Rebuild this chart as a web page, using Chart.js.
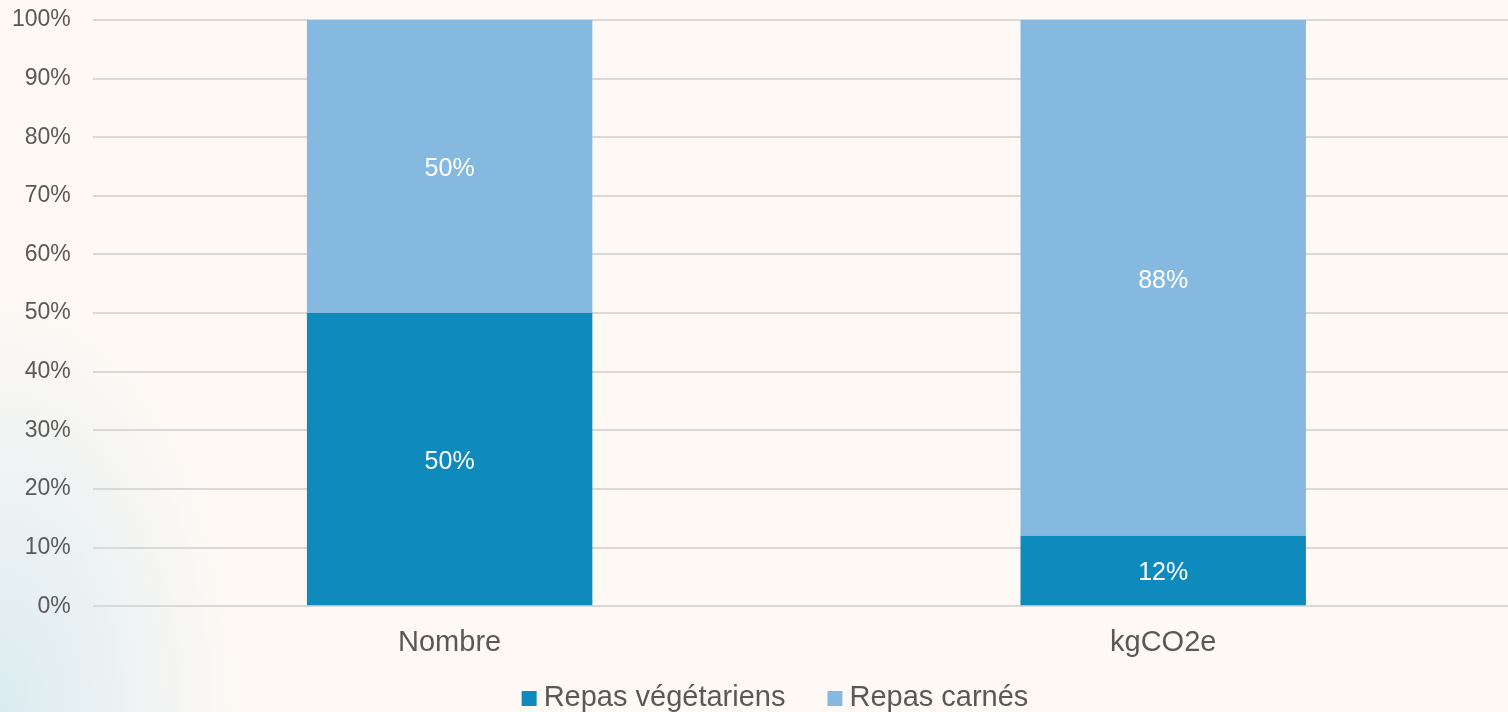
<!DOCTYPE html>
<html>
<head>
<meta charset="utf-8">
<style>
	html, body {
		margin: 0;
		padding: 0;
		width: 1508px;
		height: 712px;
		overflow: hidden;
		background-color: #fef9f5;
		background-image: radial-gradient(ellipse 240px 420px at 0px 712px, rgba(200, 228, 238, 0.65), rgba(254, 249, 245, 0));
	}
	#wrap {
		position: relative;
		width: 1520px;
		height: 712px;
	}
</style>
</head>
<body>

<div id="wrap">
	<canvas id="repasChart"></canvas>
</div>

<script src="https://cdn.jsdelivr.net/npm/chart.js@4/dist/chart.umd.min.js"></script>

<script>
	const categories = ["Nombre", "kgCO2e"]
	const vegetariens = [50, 12]
	const carnes = [50, 88]
	const yTicks = [0, 10, 20, 30, 40, 50, 60, 70, 80, 90, 100]

	const FONT = "'Liberation Sans', Arial, sans-serif"
	const TEXT_GREY = "#595959"

	// write the % value in the middle of each segment
	const segmentLabels = {
		id: "segmentLabels",
		afterDatasetsDraw(chart) {
			const ctx = chart.ctx
			ctx.save()
			ctx.font = "25px " + FONT
			ctx.fillStyle = "#ffffff"
			ctx.textAlign = "center"
			ctx.textBaseline = "middle"
			chart.data.datasets.forEach((ds, i) => {
				chart.getDatasetMeta(i).data.forEach((bar, j) => {
					const mid = (bar.y + bar.base) / 2
					ctx.fillText(ds.data[j] + "%", bar.x, mid + 3)
				})
			})
			ctx.restore()
		}
	}

	// built-in legend puts too much space between box and text, so draw our own
	const bottomLegend = {
		id: "bottomLegend",
		afterDraw(chart) {
			const ctx = chart.ctx
			const box = 15, gap = 7, itemGap = 42
			const baseline = chart.height - 6
			ctx.save()
			ctx.font = "29px " + FONT
			ctx.textBaseline = "alphabetic"
			const items = chart.data.datasets.map(ds => ({
				text: ds.label,
				color: ds.backgroundColor,
				w: ctx.measureText(ds.label).width
			}))
			const total = items.reduce((s, it) => s + box + gap + it.w, 0) + itemGap * (items.length - 1)
			let x = 775 - total / 2
			items.forEach(it => {
				ctx.fillStyle = it.color
				ctx.fillRect(x, baseline - box, box, box)
				x += box + gap
				ctx.fillStyle = TEXT_GREY
				ctx.fillText(it.text, x, baseline)
				x += it.w + itemGap
			})
			ctx.restore()
		}
	}

	const ctx = document.getElementById("repasChart")
	new Chart(ctx, {
		type: "bar",
		data: {
			labels: categories,
			datasets: [{
				label: "Repas végétariens",
				data: vegetariens,
				backgroundColor: "#0e8abd",
				borderWidth: 0
			}, {
				label: "Repas carnés",
				data: carnes,
				backgroundColor: "#85b9e0",
				borderWidth: 0
			}]
		},
		options: {
			responsive: true,
			maintainAspectRatio: false,
			animation: false,
			layout: {
				padding: { left: -10, top: 20, right: 0, bottom: 41 }
			},
			datasets: {
				bar: { barPercentage: 0.4, categoryPercentage: 1 }
			},
			scales: {
				x: {
					stacked: true,
					grid: { display: false },
					border: { display: false },
					ticks: {
						color: TEXT_GREY,
						font: { family: FONT, size: 29 },
						padding: 11
					}
				},
				y: {
					stacked: true,
					min: 0,
					max: 100,
					afterBuildTicks(axis) {
						axis.ticks = yTicks.map(v => ({ value: v }))
					},
					afterFit(axis) {
						axis.paddingTop = 0
						axis.paddingBottom = 0
					},
					grid: { color: "#d9d9d9", lineWidth: 2, drawTicks: false },
					border: { display: false },
					ticks: {
						color: TEXT_GREY,
						font: { family: FONT, size: 23 },
						padding: 22,
						callback: v => v + "%"
					}
				}
			},
			plugins: {
				legend: { display: false },
				tooltip: { enabled: false }
			}
		},
		plugins: [segmentLabels, bottomLegend]
	})
</script>
</body>
</html>
